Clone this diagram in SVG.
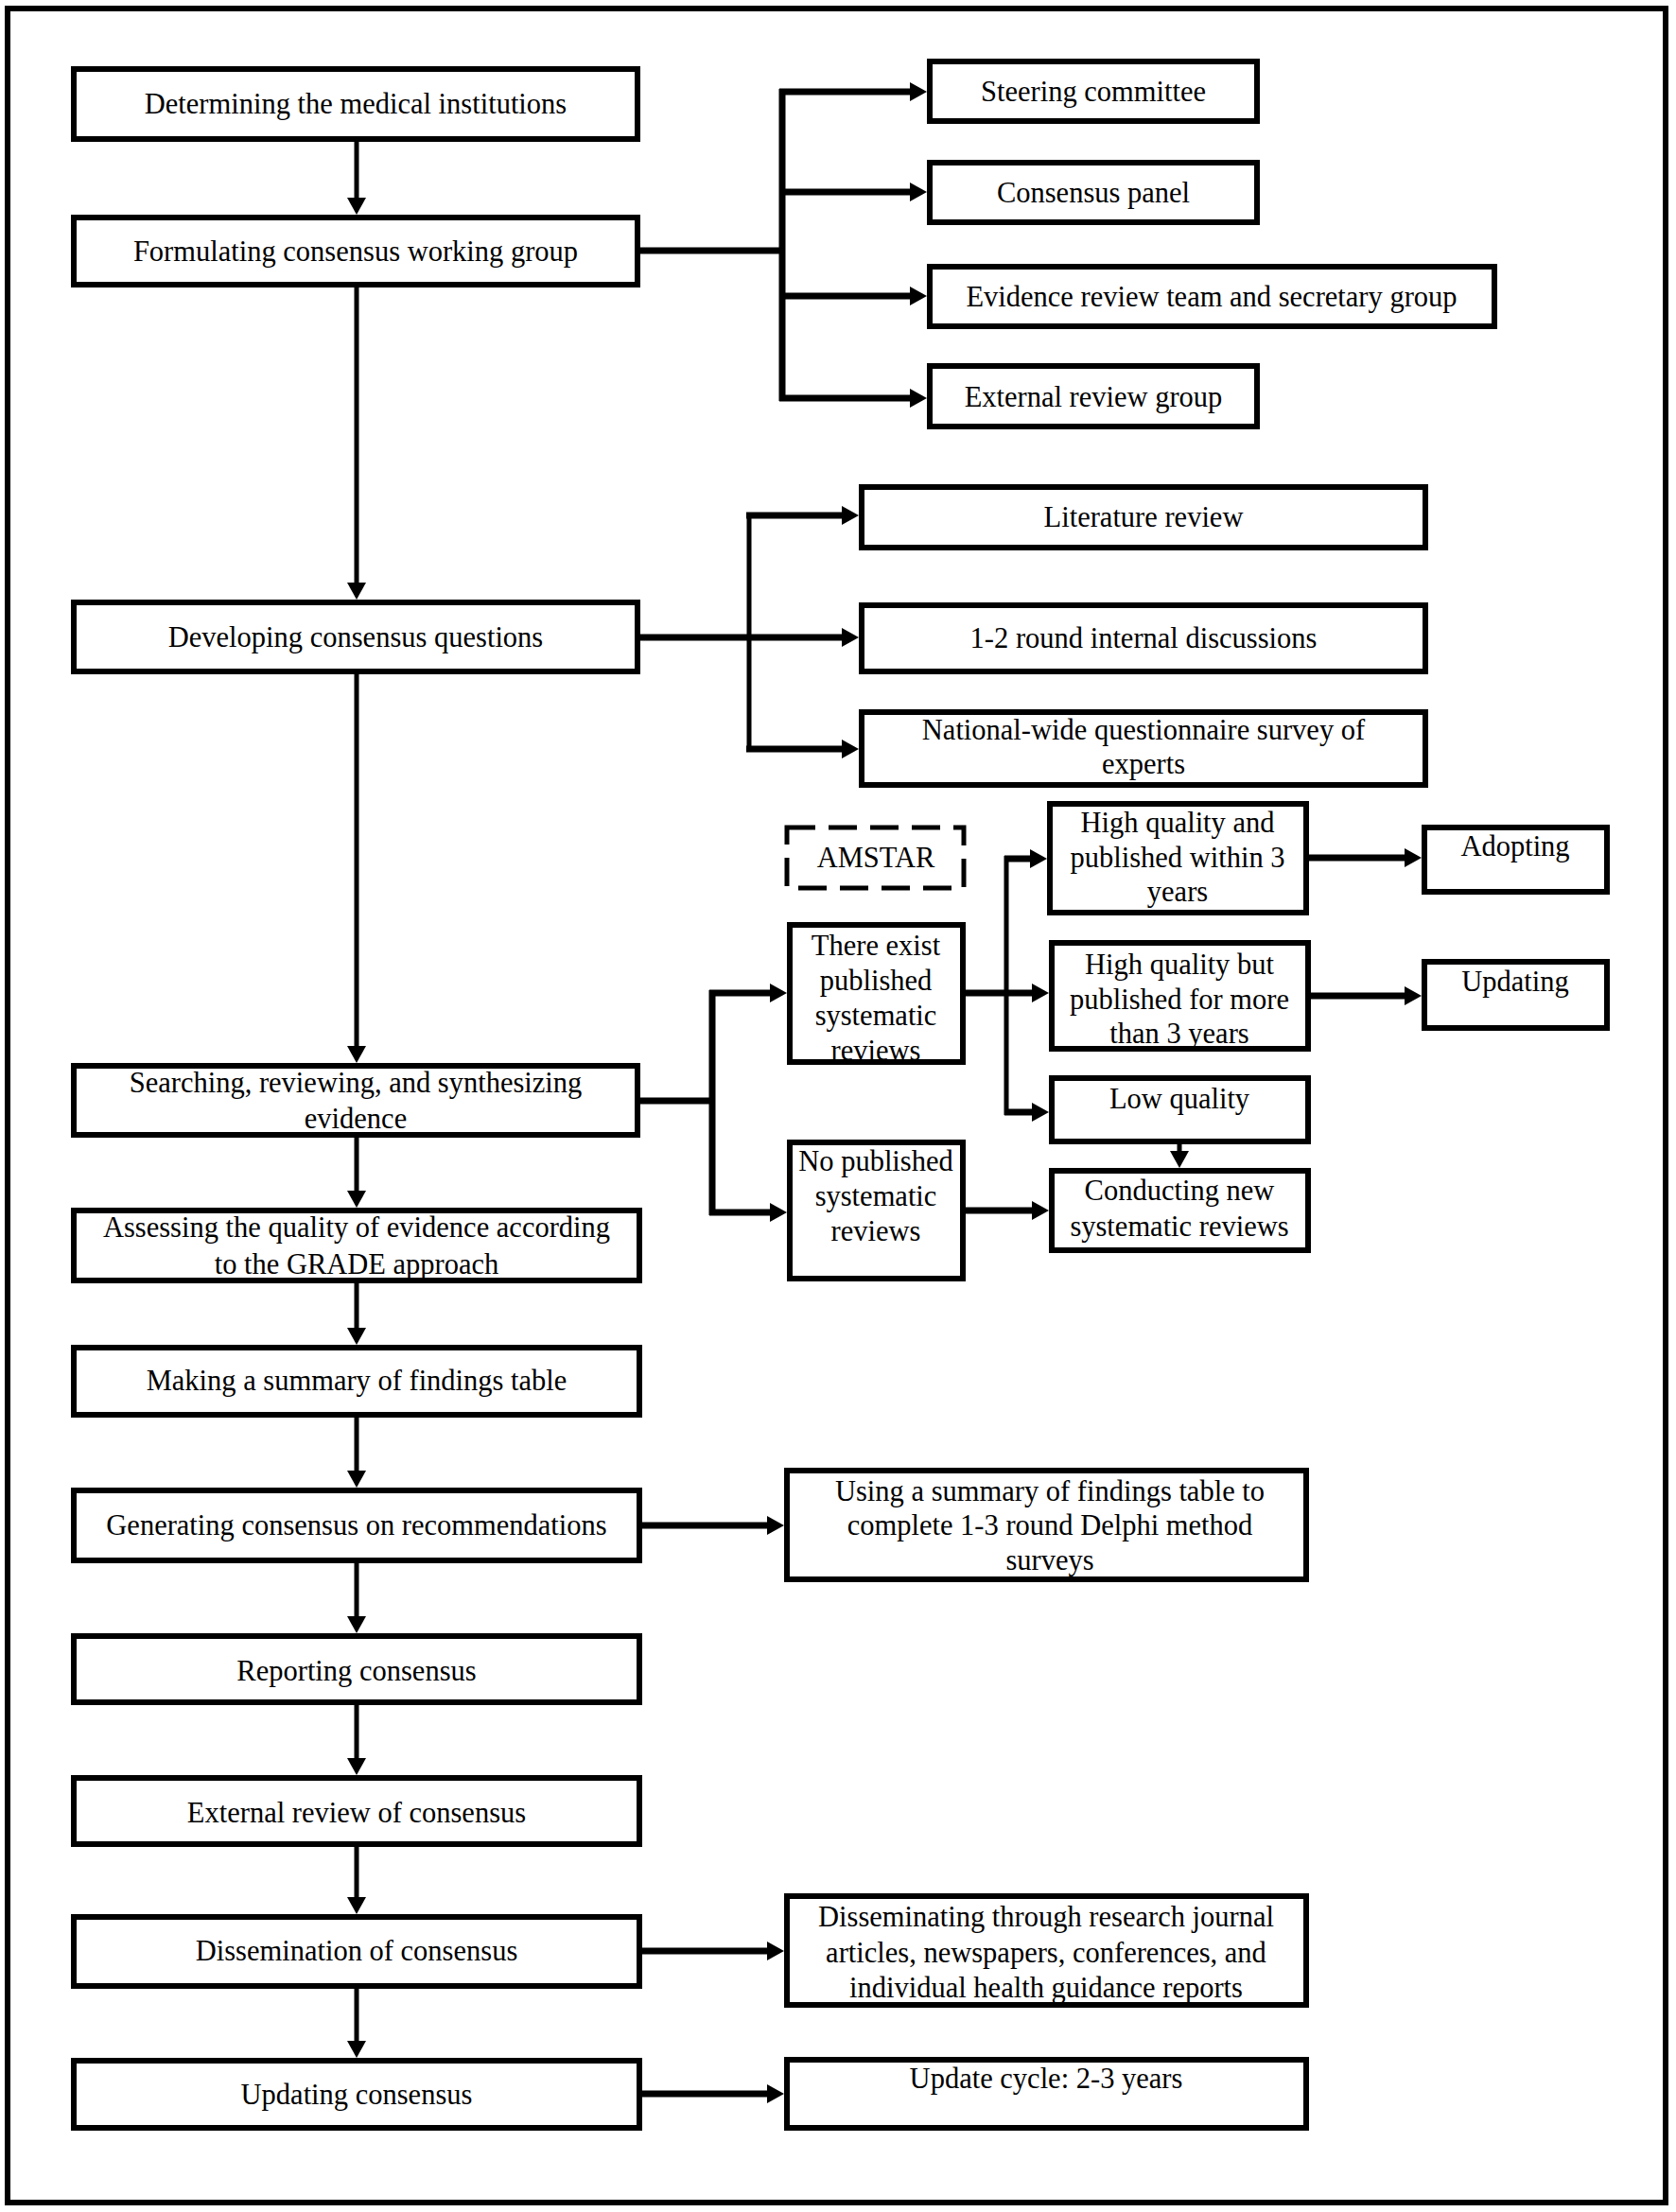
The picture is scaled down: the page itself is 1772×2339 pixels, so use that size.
<svg xmlns="http://www.w3.org/2000/svg" width="1772" height="2339" viewBox="0 0 1772 2339">
<style>
.box{fill:#fff;stroke:#000;stroke-width:6}
.dash{fill:#fff;stroke:#000;stroke-width:5;stroke-dasharray:30 14}
.t{font-family:"Liberation Serif","Times New Roman",serif;font-size:30.5px;fill:#000;text-anchor:middle}
.c{fill:none;stroke:#000;stroke-linecap:butt;stroke-linejoin:miter}
.thin{stroke-width:5}
.thick{stroke-width:7}
</style>
<defs>
<marker id="ah" markerUnits="userSpaceOnUse" markerWidth="18" markerHeight="20" refX="10" refY="10" orient="auto" viewBox="0 0 18 20">
<path d="M0,0 L18,10 L0,20 z" fill="#000"/>
</marker>
</defs>
<rect x="0" y="0" width="1772" height="2339" fill="#fff"/>
<rect x="8" y="9" width="1753" height="2320" fill="none" stroke="#000" stroke-width="6"/>

<g id="connectors">
<!-- main column -->
<line class="c thin" x1="377" y1="150" x2="377" y2="219" marker-end="url(#ah)"/>
<line class="c thin" x1="377" y1="304" x2="377" y2="626" marker-end="url(#ah)"/>
<line class="c thin" x1="377" y1="713" x2="377" y2="1116" marker-end="url(#ah)"/>
<line class="c thin" x1="377" y1="1203" x2="377" y2="1269" marker-end="url(#ah)"/>
<line class="c thin" x1="377" y1="1357" x2="377" y2="1414" marker-end="url(#ah)"/>
<line class="c thin" x1="377" y1="1499" x2="377" y2="1565" marker-end="url(#ah)"/>
<line class="c thin" x1="377" y1="1653" x2="377" y2="1719" marker-end="url(#ah)"/>
<line class="c thin" x1="377" y1="1803" x2="377" y2="1869" marker-end="url(#ah)"/>
<line class="c thin" x1="377" y1="1953" x2="377" y2="2016" marker-end="url(#ah)"/>
<line class="c thin" x1="377" y1="2103" x2="377" y2="2168" marker-end="url(#ah)"/>
<!-- working group branches -->
<polyline class="c thick" points="677,265 827,265"/>
<line class="c thick" x1="827" y1="94" x2="827" y2="424"/>
<line class="c thick" x1="824" y1="97" x2="972" y2="97" marker-end="url(#ah)"/>
<line class="c thick" x1="824" y1="203" x2="972" y2="203" marker-end="url(#ah)"/>
<line class="c thick" x1="824" y1="313" x2="972" y2="313" marker-end="url(#ah)"/>
<line class="c thick" x1="824" y1="421" x2="972" y2="421" marker-end="url(#ah)"/>
<!-- consensus question branches -->
<line class="c thick" x1="677" y1="674" x2="900" y2="674" marker-end="url(#ah)"/>
<line class="c thin" x1="792" y1="542" x2="792" y2="795"/>
<line class="c thick" x1="789" y1="545" x2="900" y2="545" marker-end="url(#ah)"/>
<line class="c thick" x1="789" y1="792" x2="900" y2="792" marker-end="url(#ah)"/>
<!-- evidence branches -->
<line class="c thick" x1="677" y1="1164" x2="753" y2="1164"/>
<line class="c thick" x1="753" y1="1047" x2="753" y2="1285"/>
<line class="c thick" x1="750" y1="1050" x2="824" y2="1050" marker-end="url(#ah)"/>
<line class="c thick" x1="750" y1="1282" x2="824" y2="1282" marker-end="url(#ah)"/>
<!-- systematic review branches -->
<line class="c thick" x1="1021" y1="1050" x2="1101" y2="1050" marker-end="url(#ah)"/>
<line class="c thin" x1="1064" y1="905" x2="1064" y2="1179"/>
<line class="c thick" x1="1062" y1="908" x2="1099" y2="908" marker-end="url(#ah)"/>
<line class="c thick" x1="1062" y1="1176" x2="1101" y2="1176" marker-end="url(#ah)"/>
<line class="c thick" x1="1384" y1="907" x2="1495" y2="907" marker-end="url(#ah)"/>
<line class="c thick" x1="1386" y1="1053" x2="1495" y2="1053" marker-end="url(#ah)"/>
<line class="c thin" x1="1247" y1="1210" x2="1247" y2="1227" marker-end="url(#ah)"/>
<line class="c thick" x1="1021" y1="1280" x2="1101" y2="1280" marker-end="url(#ah)"/>
<!-- lower branches -->
<line class="c thick" x1="679" y1="1613" x2="821" y2="1613" marker-end="url(#ah)"/>
<line class="c thick" x1="679" y1="2063" x2="821" y2="2063" marker-end="url(#ah)"/>
<line class="c thick" x1="679" y1="2214" x2="821" y2="2214" marker-end="url(#ah)"/>
</g>

<g id="n-determining"><rect class="box" x="78" y="73" width="596" height="74"/><text class="t" x="376" y="120">Determining the medical institutions</text></g>
<g id="n-formulating"><rect class="box" x="78" y="230" width="596" height="71"/><text class="t" x="376" y="276">Formulating consensus working group</text></g>
<g id="n-steering"><rect class="box" x="983" y="65" width="346" height="63"/><text class="t" x="1156" y="107">Steering committee</text></g>
<g id="n-panel"><rect class="box" x="983" y="172" width="346" height="63"/><text class="t" x="1156" y="214">Consensus panel</text></g>
<g id="n-evidence-team"><rect class="box" x="983" y="282" width="597" height="63"/><text class="t" x="1281" y="324">Evidence review team and secretary group</text></g>
<g id="n-external-group"><rect class="box" x="983" y="387" width="346" height="64"/><text class="t" x="1156" y="430">External review group</text></g>
<g id="n-developing"><rect class="box" x="78" y="637" width="596" height="73"/><text class="t" x="376" y="684">Developing consensus questions</text></g>
<g id="n-literature"><rect class="box" x="911" y="515" width="596" height="64"/><text class="t" x="1209" y="557">Literature review</text></g>
<g id="n-internal"><rect class="box" x="911" y="640" width="596" height="70"/><text class="t" x="1209" y="685">1-2 round internal discussions</text></g>
<g id="n-survey"><rect class="box" x="911" y="753" width="596" height="77"/><text class="t" x="1209" y="782">National-wide questionnaire survey of</text><text class="t" x="1209" y="818">experts</text></g>
<g id="n-amstar"><rect class="dash" x="832" y="875" width="187" height="64"/><text class="t" x="926" y="917">AMSTAR</text></g>
<g id="n-high-within"><rect class="box" x="1110" y="850" width="271" height="115"/><text class="t" x="1245" y="880">High quality and</text><text class="t" x="1245" y="917">published within 3</text><text class="t" x="1245" y="953">years</text></g>
<g id="n-adopting"><rect class="box" x="1506" y="875" width="193" height="68"/><text class="t" x="1602" y="905">Adopting</text></g>
<g id="n-exist"><rect class="box" x="835" y="978" width="183" height="145"/><text class="t" x="926" y="1010">There exist</text><text class="t" x="926" y="1047">published</text><text class="t" x="926" y="1084">systematic</text><text class="t" x="926" y="1121">reviews</text></g>
<g id="n-high-but"><rect class="box" x="1112" y="997" width="271" height="112"/><text class="t" x="1247" y="1030">High quality but</text><text class="t" x="1247" y="1067">published for more</text><text class="t" x="1247" y="1103">than 3 years</text></g>
<g id="n-updating"><rect class="box" x="1506" y="1017" width="193" height="70"/><text class="t" x="1602" y="1048">Updating</text></g>
<g id="n-searching"><rect class="box" x="78" y="1127" width="596" height="73"/><text class="t" x="376" y="1155">Searching, reviewing, and synthesizing</text><text class="t" x="376" y="1193">evidence</text></g>
<g id="n-low"><rect class="box" x="1112" y="1140" width="271" height="67"/><text class="t" x="1247" y="1172">Low quality</text></g>
<g id="n-conducting"><rect class="box" x="1112" y="1238" width="271" height="84"/><text class="t" x="1247" y="1269">Conducting new</text><text class="t" x="1247" y="1307">systematic reviews</text></g>
<g id="n-nopub"><rect class="box" x="835" y="1208" width="183" height="144"/><text class="t" x="926" y="1238">No published</text><text class="t" x="926" y="1275">systematic</text><text class="t" x="926" y="1312">reviews</text></g>
<g id="n-assessing"><rect class="box" x="78" y="1280" width="598" height="74"/><text class="t" x="377" y="1308">Assessing the quality of evidence according</text><text class="t" x="377" y="1347">to the GRADE approach</text></g>
<g id="n-making"><rect class="box" x="78" y="1425" width="598" height="71"/><text class="t" x="377" y="1470">Making a summary of findings table</text></g>
<g id="n-generating"><rect class="box" x="78" y="1576" width="598" height="74"/><text class="t" x="377" y="1623">Generating consensus on recommendations</text></g>
<g id="n-using"><rect class="box" x="832" y="1555" width="549" height="115"/><text class="t" x="1110" y="1587">Using a summary of findings table to</text><text class="t" x="1110" y="1623">complete 1-3 round Delphi method</text><text class="t" x="1110" y="1660">surveys</text></g>
<g id="n-reporting"><rect class="box" x="78" y="1730" width="598" height="70"/><text class="t" x="377" y="1777">Reporting consensus</text></g>
<g id="n-external-review"><rect class="box" x="78" y="1880" width="598" height="70"/><text class="t" x="377" y="1927">External review of consensus</text></g>
<g id="n-dissemination"><rect class="box" x="78" y="2027" width="598" height="73"/><text class="t" x="377" y="2073">Dissemination of consensus</text></g>
<g id="n-disseminating"><rect class="box" x="832" y="2005" width="549" height="115"/><text class="t" x="1106" y="2037">Disseminating through research journal</text><text class="t" x="1106" y="2075">articles, newspapers, conferences, and</text><text class="t" x="1106" y="2112">individual health guidance reports</text></g>
<g id="n-updating-consensus"><rect class="box" x="78" y="2179" width="598" height="71"/><text class="t" x="377" y="2225">Updating consensus</text></g>
<g id="n-cycle"><rect class="box" x="832" y="2178" width="549" height="72"/><text class="t" x="1106" y="2208">Update cycle: 2-3 years</text></g>
</svg>
